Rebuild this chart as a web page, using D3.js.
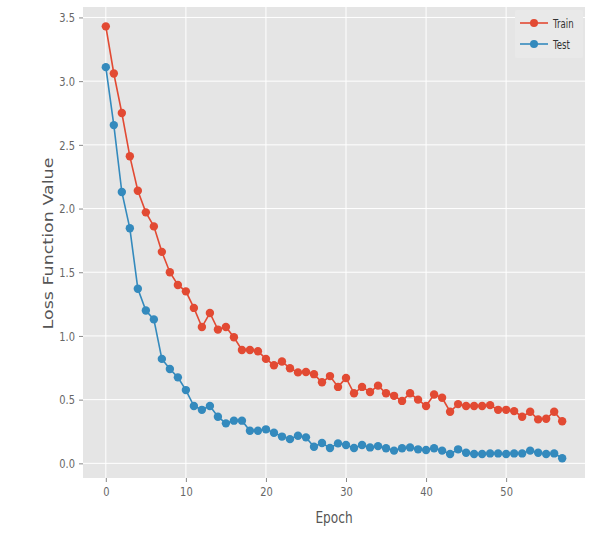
<!DOCTYPE html>
<html>
<head>
<meta charset="utf-8">
<script src="https://cdn.jsdelivr.net/npm/d3@7"></script>
<style>
  html, body { margin: 0; padding: 0; background: #ffffff; }
  svg { display: block; }
</style>
</head>
<body>
<svg id="chart" width="591" height="543"></svg>
<script>
const epochs = d3.range(0, 58);
const trainLoss = [3.43, 3.06, 2.75, 2.41, 2.14, 1.97, 1.86, 1.66, 1.50, 1.40,
  1.35, 1.22, 1.07, 1.18, 1.05, 1.07, 0.99, 0.89, 0.89, 0.88,
  0.82, 0.77, 0.80, 0.746, 0.714, 0.717, 0.70, 0.636, 0.685, 0.60,
  0.67, 0.55, 0.60, 0.56, 0.61, 0.55, 0.53, 0.49, 0.55, 0.50,
  0.45, 0.54, 0.515, 0.405, 0.465, 0.45, 0.45, 0.45, 0.457, 0.42,
  0.42, 0.41, 0.366, 0.405, 0.345, 0.35, 0.405, 0.33];
const testLoss = [3.11, 2.655, 2.13, 1.845, 1.37, 1.20, 1.13, 0.82, 0.74, 0.675,
  0.575, 0.45, 0.42, 0.45, 0.366, 0.314, 0.335, 0.335, 0.256, 0.256,
  0.267, 0.24, 0.21, 0.19, 0.217, 0.204, 0.13, 0.16, 0.12, 0.157,
  0.144, 0.12, 0.144, 0.125, 0.135, 0.118, 0.10, 0.118, 0.125, 0.11,
  0.105, 0.118, 0.10, 0.073, 0.11, 0.083, 0.073, 0.073, 0.078, 0.078,
  0.073, 0.078, 0.078, 0.10, 0.083, 0.073, 0.078, 0.04];
const xTicks = [0, 10, 20, 30, 40, 50];
const yTicks = [0.0, 0.5, 1.0, 1.5, 2.0, 2.5, 3.0, 3.5];
const seriesNames = ["Train", "Test"];
const seriesColors = ["#E24A33", "#348ABD"];
const xLabel = "Epoch";
const yLabel = "Loss Function Value";

const svg = d3.select("#chart");
const L = 83, R = 585, T = 7, B = 478;
const FONT = '"DejaVu Sans", sans-serif';
const SX = 0.76; // horizontal squeeze of the reference text

const x = d3.scaleLinear().domain([-2.85, 59.85]).range([L, R]);
const y = d3.scaleLinear().domain([-0.115, 3.582]).range([B, T]);

// plot background
svg.append("rect").attr("x", L).attr("y", T).attr("width", R - L).attr("height", B - T).attr("fill", "#e5e5e5");

// grid
const grid = svg.append("g");
grid.selectAll(".gx").data(xTicks).enter().append("line")
  .attr("x1", d => x(d)).attr("x2", d => x(d)).attr("y1", T).attr("y2", B)
  .attr("stroke", "#ffffff").attr("stroke-width", 1);
grid.selectAll(".gy").data(yTicks).enter().append("line")
  .attr("y1", d => y(d)).attr("y2", d => y(d)).attr("x1", L).attr("x2", R)
  .attr("stroke", "#ffffff").attr("stroke-width", 1);

// axes
const xAxis = d3.axisBottom(x).tickValues(xTicks).tickFormat(d3.format("d")).tickSize(4).tickPadding(6);
const yAxis = d3.axisLeft(y).tickValues(yTicks).tickFormat(d3.format(".1f")).tickSize(4).tickPadding(4);

const gx = svg.append("g").attr("transform", `translate(0,${B})`).call(xAxis);
const gy = svg.append("g").attr("transform", `translate(${L},0)`).call(yAxis);
[gx, gy].forEach(g => {
  g.select(".domain").remove();
  g.selectAll(".tick line").attr("stroke", "#888");
  g.selectAll(".tick text").attr("fill", "#666").attr("font-size", 13).attr("font-family", FONT);
});
// squeeze tick labels horizontally
gx.selectAll(".tick text").attr("transform", `scale(${SX},1)`).attr("y", 9);
gy.selectAll(".tick text").attr("transform", `scale(${SX},1)`).attr("x", -8 / SX);

// series
const data = [trainLoss, testLoss];
const line = d3.line().x((d, i) => x(epochs[i])).y(d => y(d));
data.forEach((vals, k) => {
  const g = svg.append("g");
  g.append("path").attr("d", line(vals)).attr("fill", "none")
    .attr("stroke", seriesColors[k]).attr("stroke-width", 1.6);
  g.selectAll("circle").data(vals).enter().append("circle")
    .attr("cx", (d, i) => x(epochs[i])).attr("cy", d => y(d)).attr("r", 4.2)
    .attr("fill", seriesColors[k]);
});

// axis labels
svg.append("text").attr("transform", `translate(${(L + R) / 2},523) scale(${SX},1)`).attr("text-anchor", "middle")
  .attr("font-family", FONT).attr("font-size", 16).attr("fill", "#555").text(xLabel);
svg.append("text").attr("transform", `translate(53,${(T + B) / 2 + 1}) scale(0.8,1) rotate(-90)`).attr("text-anchor", "middle")
  .attr("font-family", FONT).attr("font-size", 17.5).attr("fill", "#555").text(yLabel);

// legend
const lg = svg.append("g");
lg.append("rect").attr("x", 515).attr("y", 10).attr("width", 68).attr("height", 48)
  .attr("fill", "#e9e9e9").attr("rx", 2);
seriesNames.forEach((name, k) => {
  const ly = 23 + k * 21;
  lg.append("line").attr("x1", 520).attr("x2", 548).attr("y1", ly).attr("y2", ly)
    .attr("stroke", seriesColors[k]).attr("stroke-width", 1.6);
  lg.append("circle").attr("cx", 534).attr("cy", ly).attr("r", 4).attr("fill", seriesColors[k]);
  lg.append("text").attr("transform", `translate(553,${ly + 4.5}) scale(0.66,1)`).attr("font-family", FONT)
    .attr("font-size", 13).attr("fill", "#333").text(name);
});
</script>
</body>
</html>
